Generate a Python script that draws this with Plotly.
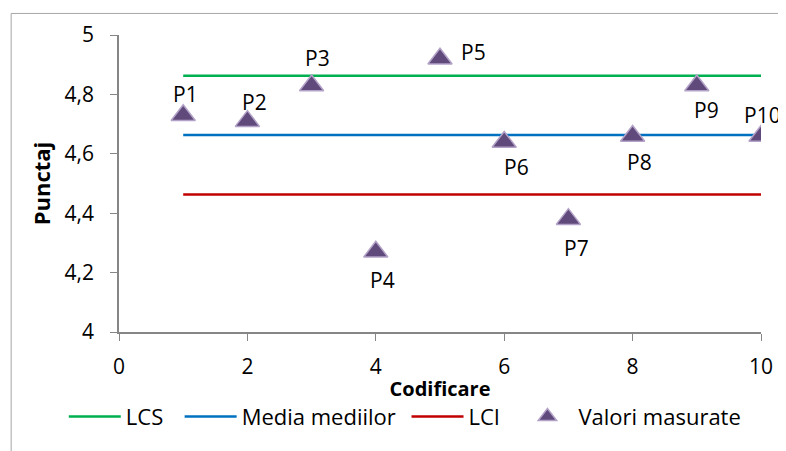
import plotly.graph_objects as go

# date
cod = [1, 2, 3, 4, 5, 6, 7, 8, 9, 10]
etichete = ["P1", "P2", "P3", "P4", "P5", "P6", "P7", "P8", "P9", "P10"]
valori = [4.73, 4.71, 4.83, 4.27, 4.92, 4.64, 4.38, 4.66, 4.83, 4.66]
lim_x = [1, 10]
lcs = [4.863, 4.863]
media = [4.663, 4.663]
lci = [4.463, 4.463]

# deplasari etichete (px): dx, dy
dx = [2, 7, 6, 7, 33, 12, 8, 7, 10, 1]
dy = [21, 19, 27, -28, 7, -25, -29, -26, -25, 21]

FONT = "Open Sans"
NB = "\u00a0"  # spatiu suplimentar intre elementele legendei

fig = go.Figure()
fig.add_trace(go.Scatter(x=lim_x, y=lcs, mode="lines", name="LCS" + NB * 2,
                         line=dict(color="#00B050", width=2.5)))
fig.add_trace(go.Scatter(x=lim_x, y=media, mode="lines", name="Media mediilor" + NB,
                         line=dict(color="#0070C0", width=2.5)))
fig.add_trace(go.Scatter(x=lim_x, y=lci, mode="lines", name="LCI" + NB * 2,
                         line=dict(color="#C00000", width=2.5)))
fig.add_trace(go.Scatter(x=cod, y=valori, mode="markers", name="Valori masurate",
                         marker=dict(symbol="triangle-up", size=21, color="#604A7B",
                                     line=dict(color="#B3A2C7", width=1.5))))

for x, y, t, a, b in zip(cod, valori, etichete, dx, dy):
    fig.add_annotation(x=x, y=y, text=t, showarrow=False, xshift=a, yshift=b,
                       font=dict(family=FONT, size=21, color="#000"))

# chenarul graficului
fig.add_shape(type="rect", xref="paper", yref="paper",
              x0=-0.168, x1=1.1, y0=-0.45, y1=1.0726,
              line=dict(color="#A6A6A6", width=1), layer="below")

fig.update_xaxes(range=[0, 10], dtick=2, showgrid=False, zeroline=False,
                 showline=True, linecolor="#868686", linewidth=1.5,
                 ticks="outside", ticklen=7, tickcolor="#868686",
                 ticklabelstandoff=8,
                 tickfont=dict(family=FONT, size=21, color="#000"),
                 title=dict(text="<b>Codificare</b>", standoff=3,
                            font=dict(family=FONT, size=20, color="#000")))
fig.update_yaxes(range=[4, 5], dtick=0.2, showgrid=False, zeroline=False,
                 showline=True, linecolor="#868686", linewidth=1.5,
                 ticks="outside", ticklen=7, tickcolor="#868686",
                 ticklabelstandoff=12,
                 tickfont=dict(family=FONT, size=21, color="#000"),
                 title=dict(text="<b>Punctaj</b>", standoff=8,
                            font=dict(family=FONT, size=22, color="#000")))

fig.update_layout(
    width=778, height=443,
    margin=dict(l=111, r=25, t=21, b=119),
    separators=", ",
    paper_bgcolor="white", plot_bgcolor="white",
    legend=dict(orientation="h", x=-0.086, xanchor="left", y=-0.285, yanchor="middle",
                font=dict(family=FONT, size=22, color="#000"),
                bgcolor="rgba(0,0,0,0)", itemwidth=52),
)

fig.write_html("out.html")
